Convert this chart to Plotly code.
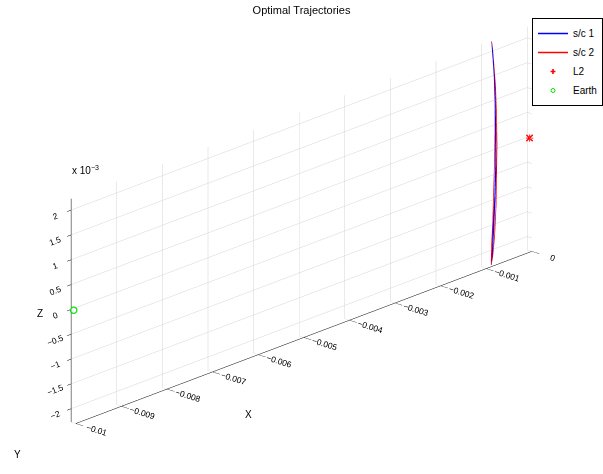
import plotly.graph_objects as go

# Spacecraft trajectories (X, Y, Z), normalized units
sc1_x = [-0.00083, -0.00080, -0.00076, -0.00074, -0.00073, -0.00073, -0.00075, -0.00078, -0.00081, -0.00084,
         -0.00082, -0.00080, -0.00077, -0.00075, -0.00075, -0.00076, -0.00078, -0.00081, -0.00083]
sc1_y = [0.0, 0.00002, 0.00003, 0.00004, 0.00004, 0.00004, 0.00004, 0.00003, 0.00002, 0.0,
         -0.00002, -0.00003, -0.00004, -0.00004, -0.00004, -0.00004, -0.00003, -0.00002, 0.0]
sc1_z = [0.00223, 0.0019, 0.0014, 0.0008, 0.0002, -0.0004, -0.0010, -0.0016, -0.0020, -0.00227,
         -0.0020, -0.0015, -0.0009, -0.0003, 0.0003, 0.0009, 0.0015, 0.0020, 0.00223]

sc2_x = [-0.00083, -0.00079, -0.00075, -0.00073, -0.00072, -0.00073, -0.00074, -0.00077, -0.00081, -0.00084,
         -0.00083, -0.00080, -0.00078, -0.00076, -0.00075, -0.00075, -0.00077, -0.00080, -0.00083]
sc2_y = [0.0, -0.00002, -0.00003, -0.00004, -0.00004, -0.00004, -0.00004, -0.00003, -0.00002, 0.0,
         0.00002, 0.00003, 0.00004, 0.00004, 0.00004, 0.00004, 0.00003, 0.00002, 0.0]
sc2_z = [0.00222, 0.0018, 0.0013, 0.0007, 0.0001, -0.0005, -0.0011, -0.0017, -0.0021, -0.00226,
         -0.0019, -0.0014, -0.0008, -0.0002, 0.0004, 0.0010, 0.0016, 0.0020, 0.00222]

# Libration point and Earth
l2_pos = [0.0, 0.0, 0.0]
earth_pos = [-0.01, 0.0, 0.0]

# Axis ticks
x_ticks = [-0.01, -0.009, -0.008, -0.007, -0.006, -0.005, -0.004, -0.003, -0.002, -0.001, 0.0]
x_ticktext = ["\u22120.01", "\u22120.009", "\u22120.008", "\u22120.007", "\u22120.006", "\u22120.005",
              "\u22120.004", "\u22120.003", "\u22120.002", "\u22120.001", "0"]
z_ticks = [-0.002, -0.0015, -0.001, -0.0005, 0.0, 0.0005, 0.001, 0.0015, 0.002]
z_ticktext = ["\u22122", "\u22121.5", "\u22121", "\u22120.5", "0", "0.5", "1", "1.5", "2"]

x_range = [-0.01, 0.0]
y_range = [-0.0003, 0.0003]
z_range = [-0.00227, 0.00223]

FONT = "Liberation Sans, Arial, Helvetica, sans-serif"
EYE_DIST = 2.55

fig = go.Figure()
fig.add_trace(go.Scatter3d(x=sc1_x, y=sc1_y, z=sc1_z, mode="lines", name="s/c 1",
                           line=dict(color="#0000ff", width=1.5)))
fig.add_trace(go.Scatter3d(x=sc2_x, y=sc2_y, z=sc2_z, mode="lines", name="s/c 2",
                           line=dict(color="#ff0000", width=1.5)))
fig.add_trace(go.Scatter3d(x=[l2_pos[0]], y=[l2_pos[1]], z=[l2_pos[2]], mode="markers", name="L2",
                           marker=dict(symbol="cross", size=4, color="#ff0000")))
fig.add_trace(go.Scatter3d(x=[l2_pos[0]], y=[l2_pos[1]], z=[l2_pos[2]], mode="markers", showlegend=False,
                           marker=dict(symbol="x", size=1.6, color="#ff0000")))
fig.add_trace(go.Scatter3d(x=[earth_pos[0]], y=[earth_pos[1]], z=[earth_pos[2]], mode="markers", name="Earth",
                           marker=dict(symbol="circle-open", size=4, color="#00dd00",
                                       line=dict(color="#00dd00", width=1))))

axis_common = dict(showbackground=False, showspikes=False, title=dict(text=""),
                   tickfont=dict(family=FONT, size=10, color="black"),
                   gridcolor="#d4d4d4", gridwidth=1, zeroline=False,
                   showline=True, linecolor="black", linewidth=1,
                   ticks="outside", ticklen=6, tickcolor="black")

fig.update_layout(
    width=603, height=474,
    margin=dict(l=0, r=0, t=0, b=0),
    paper_bgcolor="white",
    font=dict(family=FONT, size=10, color="black"),
    title=dict(text="Optimal Trajectories", x=0.5, xanchor="center", y=1 - 10 / 474, yanchor="middle",
               font=dict(family=FONT, size=11, color="black")),
    showlegend=True,
    legend=dict(x=1.0, y=1 - 18 / 474, xanchor="right", yanchor="top",
                bordercolor="black", borderwidth=1, bgcolor="white",
                font=dict(family=FONT, size=10), itemwidth=30, tracegroupgap=0),
    scene=dict(
        domain=dict(x=[0, 1], y=[0.05, 1.0]),
        xaxis=dict(axis_common, range=x_range, tickvals=x_ticks, ticktext=x_ticktext),
        yaxis=dict(axis_common, range=y_range, showticklabels=False, showgrid=False,
                   ticks="", showline=False),
        zaxis=dict(axis_common, range=z_range, tickvals=z_ticks, ticktext=z_ticktext),
        aspectmode="manual",
        aspectratio=dict(x=3.02, y=0.0275, z=1.057),
        camera=dict(eye=dict(x=-0.697 * EYE_DIST, y=-0.631 * EYE_DIST, z=0.342 * EYE_DIST),
                    up=dict(x=0, y=0, z=1), center=dict(x=0, y=0, z=0),
                    projection=dict(type="orthographic")),
    ),
    annotations=[
        dict(text="x 10<sup>\u22123</sup>", x=70 / 603, y=1 - 170 / 474, xref="paper", yref="paper",
             xanchor="left", yanchor="middle", showarrow=False, font=dict(family=FONT, size=10)),
        dict(text="Z", x=35 / 603, y=1 - 313 / 474, xref="paper", yref="paper",
             showarrow=False, font=dict(family=FONT, size=10)),
        dict(text="X", x=248 / 603, y=1 - 422 / 474, xref="paper", yref="paper",
             showarrow=False, font=dict(family=FONT, size=10)),
        dict(text="Y", x=12 / 603, y=1 - 462 / 474, xref="paper", yref="paper",
             showarrow=False, font=dict(family=FONT, size=10)),
    ],
)

fig.write_html("out.html")
